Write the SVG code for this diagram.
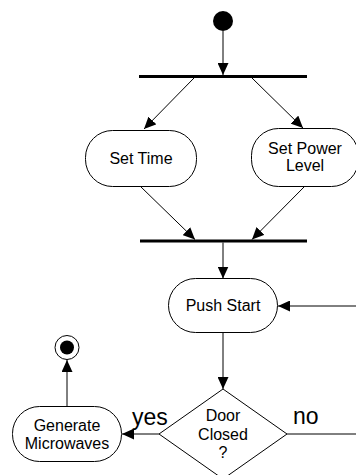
<svg xmlns="http://www.w3.org/2000/svg" width="356" height="475" viewBox="0 0 356 475">
  <defs>
    <marker id="arr" markerUnits="userSpaceOnUse" markerWidth="13" markerHeight="11" refX="12" refY="5.5" orient="auto">
      <path d="M0,0 L12,5.5 L0,11 Z" fill="#000"/>
    </marker>
  </defs>
  <style>
    .node { fill: #fff; stroke: #000; stroke-width: 1; }
    .lbl { font-family: "Liberation Sans", Arial, sans-serif; font-size: 16px; fill: #000; text-anchor: middle; }
    .big { font-family: "Liberation Sans", Arial, sans-serif; font-size: 23px; fill: #000; }
    .edge { stroke: #000; stroke-width: 1; fill: none; }
    .arrow { marker-end: url(#arr); }
    .bar { stroke: #000; stroke-width: 3; }
  </style>
  <rect width="356" height="475" fill="#fff"/>

  <g id="connectors">
    <line class="edge arrow" x1="223" y1="31" x2="223" y2="75"/>
    <line class="edge arrow" x1="194" y1="78" x2="144" y2="129"/>
    <line class="edge arrow" x1="252" y1="78" x2="303" y2="128"/>
    <line class="edge arrow" x1="140" y1="186" x2="195" y2="239.5"/>
    <line class="edge arrow" x1="305" y1="186" x2="252" y2="239.5"/>
    <line class="edge arrow" x1="223" y1="242.5" x2="223" y2="278.5"/>
    <line class="edge arrow" x1="223" y1="333" x2="223" y2="389"/>
    <line class="edge arrow" x1="159" y1="434" x2="122" y2="434"/>
    <line class="edge arrow" x1="67" y1="407" x2="67" y2="360"/>
    <line class="edge" x1="287" y1="434" x2="356" y2="434"/>
    <line class="edge arrow" x1="356" y1="306" x2="278" y2="306"/>
  </g>

  <g id="start">
    <circle cx="223" cy="21" r="10" fill="#000"/>
  </g>

  <g id="fork">
    <line class="bar" x1="139" y1="76.5" x2="307" y2="76.5"/>
  </g>

  <g id="set-time">
    <rect class="node" x="85.5" y="130.5" width="111" height="56" rx="27" ry="27"/>
    <text class="lbl" x="141" y="164">Set Time</text>
  </g>

  <g id="set-power-level">
    <rect class="node" x="251.5" y="128.5" width="107" height="58" rx="27" ry="27"/>
    <text class="lbl" x="305" y="154">Set Power</text>
    <text class="lbl" x="305" y="171">Level</text>
  </g>

  <g id="join">
    <line class="bar" x1="140" y1="241" x2="307" y2="241"/>
  </g>

  <g id="push-start">
    <rect class="node" x="168.5" y="278.5" width="109" height="54" rx="27" ry="27"/>
    <text class="lbl" x="223" y="311">Push Start</text>
  </g>

  <g id="door-closed">
    <polygon class="node" points="223,389 287,434 223,479 159,434"/>
    <text class="lbl" x="223" y="421">Door</text>
    <text class="lbl" x="223" y="439.5">Closed</text>
    <text class="lbl" x="223" y="458">?</text>
  </g>

  <g id="generate-microwaves">
    <rect class="node" x="12.5" y="406.5" width="109" height="55" rx="27" ry="27"/>
    <text class="lbl" x="67" y="431">Generate</text>
    <text class="lbl" x="67" y="449">Microwaves</text>
  </g>

  <g id="end">
    <circle cx="67" cy="347.5" r="12" fill="#fff" stroke="#000" stroke-width="1"/>
    <circle cx="67" cy="347.5" r="7" fill="#000"/>
  </g>

  <g id="guards">
    <text class="big" x="132" y="425">yes</text>
    <text class="big" x="293" y="424">no</text>
  </g>
</svg>
